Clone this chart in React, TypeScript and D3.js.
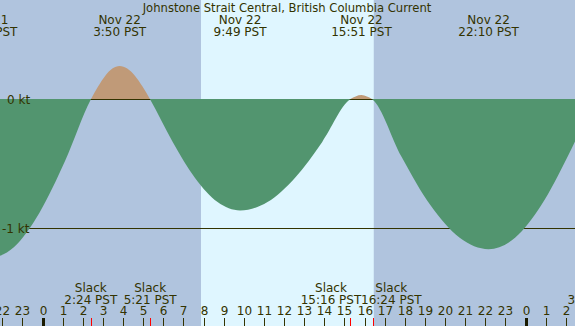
import * as d3 from "d3";

// hours since midnight Nov 22 (PST) and current speed in knots
const flowHours = [-2.75, -1.425, -0.15, 1.125, 2.4, 2.76, 3.12, 3.47, 3.833, 4.21, 4.59, 4.97, 5.35, 6.47, 7.58, 8.7, 9.817, 11.18, 12.54, 13.9, 15.267, 15.56, 15.85, 16.12, 16.4, 17.84, 19.28, 20.73, 22.167, 23.48, 24.78, 26.09, 27.4];
const flowKnots = [-1.24, -1.146, -0.877, -0.475, 0, 0.1, 0.184, 0.24, 0.26, 0.24, 0.184, 0.1, 0, -0.329, -0.608, -0.795, -0.86, -0.795, -0.608, -0.329, 0, 0.024, 0.034, 0.024, 0, -0.444, -0.82, -1.072, -1.16, -1.072, -0.82, -0.444, 0];

const maxHours = [-2.75, 3.833, 9.817, 15.85, 22.167];
const maxDates = ["Nov 21", "Nov 22", "Nov 22", "Nov 22", "Nov 22"];
const maxTimes = ["21:15 PST", "3:50 PST", "9:49 PST", "15:51 PST", "22:10 PST"];

const slackHours = [2.4, 5.35, 15.267, 16.4, 27.4];
const slackTimes = ["2:24 PST", "5:21 PST", "15:16 PST", "16:24 PST", "3:24 PST"];

const sunrise = 7.876;
const sunset = 16.46;

const hourTicks = d3.range(-2, 27);
const levelTicks = [0, -1];

const W = 575;
const H = 326;
const ink = "#333300";
const font = "DejaVu Sans";

// rough text width for 12px DejaVu Sans
const textW = (s: string) => s.length * 6.7;

// push neighbouring labels apart so they don't overlap
function spread(centers: number[], labels: string[]) {
  const out = centers.slice();
  for (let i = 1; i < out.length; i++) {
    const need = (textW(labels[i - 1]) + textW(labels[i])) / 2;
    const gap = out[i] - out[i - 1];
    if (gap < need) {
      const d = (need - gap) / 2;
      out[i - 1] -= d;
      out[i] += d;
    }
  }
  return out;
}

export default function App() {
  const x = d3.scaleLinear().domain([0, 24]).range([42.5, 525.5]);
  const y = d3.scaleLinear().domain([0, -1]).range([99.5, 228.5]);

  const pts: [number, number][] = flowHours.map((h, i) => [h, flowKnots[i]]);

  const area = d3.area<[number, number]>()
    .x(d => x(d[0]))
    .y0(y(0) - 0.5)
    .y1(d => y(d[1]))
    .curve(d3.curveMonotoneX);

  const slackX = spread(slackHours.map(h => x(h)), slackTimes);

  return (
    <svg width={W} height={H} style={{ position: "absolute", left: 0, top: 0 }} fontFamily={font} fontSize={12}>
      <defs>
        <clipPath id="above"><rect x={0} y={0} width={W} height={y(0) - 0.5} /></clipPath>
        <clipPath id="below"><rect x={0} y={y(0) - 0.5} width={W} height={H} /></clipPath>
      </defs>
      <rect x={0} y={0} width={W} height={H} fill="#b0c4de" />
      <rect x={x(sunrise)} y={0} width={x(sunset) - x(sunrise)} height={H} fill="#dff6ff" />

      {levelTicks.map(v => (
        <line key={v} x1={0} x2={W} y1={Math.round(y(v)) - 0.5} y2={Math.round(y(v)) - 0.5} stroke={ink} strokeWidth={1} />
      ))}

      <path d={area(pts) ?? ""} fill="#c09a78" clipPath="url(#above)" />
      <path d={area(pts) ?? ""} fill="#52956f" clipPath="url(#below)" />

      {levelTicks.map((v, i) => (
        <text key={v} x={i === 0 ? 7 : 2} y={y(v)} dy="0.35em" fill={ink}>{v} kt</text>
      ))}

      <text x={287} y={12} textAnchor="middle" fill={ink} fontSize={11.6}>Johnstone Strait Central, British Columbia Current</text>

      {maxHours.map((h, i) => (
        <g key={h} textAnchor="middle" fill={ink}>
          <text x={x(h)} y={24}>{maxDates[i]}</text>
          <text x={x(h)} y={36}>{maxTimes[i]}</text>
        </g>
      ))}

      {slackHours.map((h, i) => (
        <g key={h} textAnchor="middle" fill={ink}>
          <text x={slackX[i]} y={292}>Slack</text>
          <text x={slackX[i]} y={304}>{slackTimes[i]}</text>
          <line x1={Math.round(x(h)) + 0.5} x2={Math.round(x(h)) + 0.5} y1={318} y2={H} stroke="#ff0000" />
        </g>
      ))}

      {hourTicks.map(h => {
        const label = ((h % 24) + 24) % 24;
        const px = Math.round(x(h));
        return (
          <g key={h}>
            <text x={px + 0.5} y={315} textAnchor="middle" fill={ink}>{label}</text>
            {label === 0
              ? <rect x={px - 1} y={318} width={3} height={H - 318} fill="#1a1a00" />
              : <line x1={px + 0.5} x2={px + 0.5} y1={318} y2={H} stroke={ink} />}
          </g>
        );
      })}
    </svg>
  );
}
